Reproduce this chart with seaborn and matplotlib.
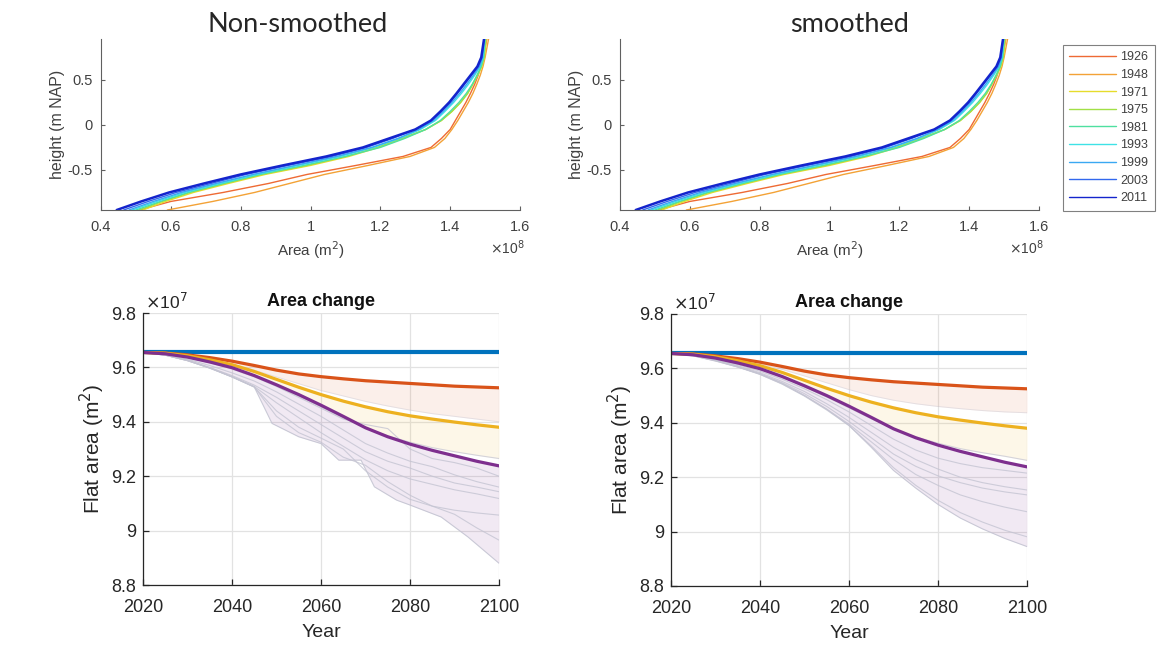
import numpy as np
import pandas as pd
import matplotlib
matplotlib.use("Agg")
import matplotlib.pyplot as plt
import seaborn as sns

sns.set_style("ticks")
plt.rcParams['font.family'] = ['Liberation Sans', 'DejaVu Sans']

# ---- top panels: hypsometric curves (area x1e8 m2 vs height) ----
survey_years = ['1926', '1948', '1971', '1975', '1981', '1993', '1999', '2003', '2011']
survey_colors = ['#ee6a34', '#f3a236', '#e6dc2c', '#a2e046', '#4fe0a0', '#3fe2e6',
                 '#3aa8f2', '#3268ee', '#1424cc']
heights = [-0.945, -0.85, -0.75, -0.65, -0.55, -0.45, -0.35, -0.25, -0.15, -0.05,
           0.05, 0.15, 0.25, 0.35, 0.45, 0.55, 0.65, 0.75, 0.955]
area_1926 = [0.51, 0.60, 0.75, 0.88, 0.99, 1.13, 1.265, 1.345, 1.375, 1.40,
             1.415, 1.43, 1.445, 1.458, 1.47, 1.48, 1.488, 1.495, 1.505]
area_1948 = [0.59, 0.72, 0.84, 0.94, 1.04, 1.165, 1.285, 1.355, 1.385, 1.405,
             1.422, 1.437, 1.452, 1.465, 1.476, 1.486, 1.494, 1.50, 1.51]
area_1971 = [0.52, 0.585, 0.665, 0.765, 0.87, 1.0, 1.11, 1.195, 1.265, 1.33,
             1.375, 1.405, 1.43, 1.45, 1.465, 1.479, 1.491, 1.498, 1.503]
area_1975 = [0.51, 0.575, 0.655, 0.755, 0.86, 0.99, 1.10, 1.19, 1.26, 1.33,
             1.375, 1.405, 1.43, 1.45, 1.464, 1.477, 1.489, 1.497, 1.502]
area_1981 = [0.50, 0.57, 0.65, 0.75, 0.855, 0.98, 1.10, 1.20, 1.27, 1.33,
             1.372, 1.40, 1.425, 1.446, 1.463, 1.477, 1.489, 1.496, 1.50]
area_1993 = [0.49, 0.56, 0.64, 0.74, 0.845, 0.965, 1.085, 1.18, 1.255, 1.315,
             1.358, 1.385, 1.41, 1.432, 1.452, 1.47, 1.486, 1.494, 1.499]
area_1999 = [0.48, 0.55, 0.63, 0.73, 0.835, 0.955, 1.075, 1.175, 1.25, 1.31,
             1.353, 1.38, 1.405, 1.427, 1.447, 1.466, 1.484, 1.493, 1.498]
area_2003 = [0.465, 0.535, 0.615, 0.715, 0.815, 0.935, 1.06, 1.16, 1.235, 1.30,
             1.347, 1.375, 1.40, 1.421, 1.441, 1.461, 1.481, 1.491, 1.497]
area_2011 = [0.445, 0.515, 0.595, 0.695, 0.80, 0.92, 1.045, 1.15, 1.225, 1.30,
             1.345, 1.372, 1.397, 1.418, 1.438, 1.458, 1.478, 1.489, 1.497]
survey_areas = [area_1926, area_1948, area_1971, area_1975, area_1981,
                area_1993, area_1999, area_2003, area_2011]

# ---- bottom panels: flat area projections (x1e7 m2) ----
years = [2020, 2025, 2030, 2035, 2040, 2045, 2050, 2055, 2060, 2065, 2070, 2075, 2080, 2085, 2090, 2095, 2100]
blue_main = [9.655] * 17
red_main = [9.655, 9.653, 9.646, 9.636, 9.623, 9.607, 9.590, 9.576, 9.566, 9.558, 9.551, 9.546, 9.541, 9.536, 9.531, 9.528, 9.525]
yellow_main = [9.655, 9.652, 9.643, 9.628, 9.610, 9.585, 9.556, 9.527, 9.500, 9.476, 9.455, 9.437, 9.422, 9.410, 9.399, 9.389, 9.380]
purple_main = [9.655, 9.650, 9.638, 9.620, 9.599, 9.570, 9.536, 9.500, 9.461, 9.420, 9.378, 9.345, 9.318, 9.295, 9.275, 9.255, 9.238]

# non-smoothed
red_low_ns = [9.655, 9.652, 9.642, 9.628, 9.612, 9.590, 9.565, 9.540, 9.515, 9.495, 9.475, 9.458, 9.443, 9.430, 9.420, 9.410, 9.400]
yellow_low_ns = [9.655, 9.650, 9.637, 9.619, 9.597, 9.568, 9.532, 9.495, 9.455, 9.415, 9.378, 9.348, 9.325, 9.305, 9.290, 9.277, 9.265]
purple_low_years_ns = [2020, 2025, 2030, 2035, 2040, 2045, 2049, 2055, 2060, 2064, 2069, 2072, 2077, 2080, 2087, 2093, 2100]
purple_low_ns = [9.655, 9.645, 9.625, 9.598, 9.565, 9.528, 9.394, 9.345, 9.320, 9.259, 9.259, 9.161, 9.112, 9.094, 9.050, 8.977, 8.880]
members_ns = [
    [9.655, 9.649, 9.636, 9.617, 9.594, 9.565, 9.530, 9.490, 9.450, 9.410, 9.390, 9.375, 9.300, 9.265, 9.250, 9.230, 9.200],
    [9.655, 9.647, 9.630, 9.607, 9.580, 9.550, 9.510, 9.465, 9.420, 9.370, 9.320, 9.285, 9.255, 9.235, 9.205, 9.180, 9.160],
    [9.655, 9.646, 9.627, 9.600, 9.570, 9.535, 9.490, 9.440, 9.390, 9.340, 9.290, 9.255, 9.230, 9.200, 9.175, 9.160, 9.143],
    [9.655, 9.645, 9.625, 9.597, 9.566, 9.530, 9.470, 9.415, 9.360, 9.310, 9.260, 9.220, 9.190, 9.170, 9.150, 9.135, 9.118],
    [9.655, 9.645, 9.625, 9.598, 9.565, 9.528, 9.440, 9.380, 9.340, 9.300, 9.220, 9.160, 9.115, 9.090, 9.075, 9.065, 9.057],
    [9.655, 9.645, 9.625, 9.598, 9.565, 9.528, 9.420, 9.360, 9.325, 9.270, 9.240, 9.180, 9.130, 9.090, 9.060, 9.010, 8.965],
]

# smoothed
red_low_s = [9.655, 9.652, 9.644, 9.632, 9.616, 9.596, 9.572, 9.547, 9.522, 9.500, 9.483, 9.470, 9.460, 9.452, 9.445, 9.440, 9.437]
yellow_low_s = [9.655, 9.650, 9.637, 9.619, 9.597, 9.568, 9.532, 9.495, 9.455, 9.415, 9.378, 9.348, 9.325, 9.305, 9.290, 9.277, 9.262]
purple_low_s = [9.655, 9.646, 9.627, 9.605, 9.580, 9.545, 9.500, 9.450, 9.390, 9.310, 9.225, 9.160, 9.100, 9.050, 9.010, 8.975, 8.945]
members_s = [
    [9.655, 9.649, 9.634, 9.614, 9.590, 9.560, 9.525, 9.485, 9.440, 9.390, 9.340, 9.300, 9.270, 9.250, 9.235, 9.225, 9.215],
    [9.655, 9.648, 9.632, 9.610, 9.584, 9.552, 9.515, 9.470, 9.420, 9.365, 9.310, 9.265, 9.230, 9.200, 9.180, 9.165, 9.153],
    [9.655, 9.647, 9.630, 9.607, 9.580, 9.547, 9.507, 9.460, 9.405, 9.345, 9.285, 9.240, 9.205, 9.180, 9.160, 9.146, 9.135],
    [9.655, 9.647, 9.629, 9.606, 9.578, 9.543, 9.500, 9.450, 9.395, 9.330, 9.265, 9.210, 9.170, 9.135, 9.110, 9.090, 9.073],
    [9.655, 9.646, 9.628, 9.605, 9.578, 9.542, 9.498, 9.447, 9.390, 9.315, 9.235, 9.170, 9.115, 9.070, 9.035, 9.005, 8.981],
]

C_BLUE, C_RED, C_YEL, C_PUR = '#0072BD', '#D95319', '#EDB120', '#7E2F8E'
GRAY_LINE = '#c4c4d2'

W, H = 1167, 651
fig = plt.figure(figsize=(W / 100, H / 100), dpi=100)


def rect(x0, x1, y0, y1):
    return [x0 / W, 1 - y1 / H, (x1 - x0) / W, (y1 - y0) / H]


def top_panel(ax, title, cx):
    for lab, col, area in zip(survey_years, survey_colors, survey_areas):
        lw = 1.8 if lab == '2011' else 1.0
        sns.lineplot(x=area, y=heights, sort=False, estimator=None, color=col,
                     lw=lw, ax=ax, label=lab, legend=False)
    ax.set_xlim(0.4, 1.6)
    ax.set_ylim(-0.945, 0.955)
    ax.set_xticks([0.4, 0.6, 0.8, 1.0, 1.2, 1.4, 1.6])
    ax.set_xticklabels(['0.4', '0.6', '0.8', '1', '1.2', '1.4', '1.6'])
    ax.set_yticks([-0.5, 0, 0.5])
    ax.set_yticklabels(['-0.5', '0', '0.5'])
    for s in ['top', 'right']:
        ax.spines[s].set_visible(False)
    for s in ['left', 'bottom']:
        ax.spines[s].set_color('#606060')
        ax.spines[s].set_linewidth(0.8)
    ax.tick_params(direction='in', length=3, width=0.8, colors='#606060',
                   labelcolor='#404040', labelsize=10.5)
    ax.tick_params(axis='x', pad=7)
    ax.tick_params(axis='y', pad=6)
    ax.set_xlabel('Area (m$^2$)', fontsize=11, color='#404040', labelpad=4)
    ax.set_ylabel('height (m NAP)', fontsize=11.5, color='#404040', labelpad=2)
    ax.text(0.97, -0.222, r'$\times$10$^8$', transform=ax.transAxes, ha='center',
            va='center', fontsize=10, color='#404040')
    fig.text(cx / W, 1 - 25 / H, title, ha='center', va='center',
             fontsize=19.5, family=['Lato', 'DejaVu Sans'])


def bottom_panel(ax, red_low, yellow_low, pl_years, purple_low, members):
    ax.fill_between(years, red_main, red_low, color=C_RED, alpha=0.09, lw=0)
    ax.fill_between(years, yellow_main, yellow_low, color=C_YEL, alpha=0.10, lw=0)
    ax.fill_between(pl_years, np.interp(pl_years, years, purple_main), purple_low,
                    color=C_PUR, alpha=0.10, lw=0)
    for m in members:
        sns.lineplot(x=years, y=m, color=GRAY_LINE, lw=0.8, alpha=0.8, ax=ax)
    sns.lineplot(x=years, y=red_low, color=GRAY_LINE, lw=0.7, alpha=0.4, ax=ax)
    sns.lineplot(x=years, y=yellow_low, color=GRAY_LINE, lw=0.8, alpha=0.7, ax=ax)
    sns.lineplot(x=pl_years, y=purple_low, color=GRAY_LINE, lw=0.8, alpha=0.9, ax=ax)
    sns.lineplot(x=years, y=blue_main, color=C_BLUE, lw=3.0, ax=ax)
    sns.lineplot(x=years, y=red_main, color=C_RED, lw=2.3, ax=ax)
    sns.lineplot(x=years, y=yellow_main, color=C_YEL, lw=2.3, ax=ax)
    sns.lineplot(x=years, y=purple_main, color=C_PUR, lw=2.3, ax=ax)
    ax.set_xlim(2020, 2100)
    ax.set_ylim(8.8, 9.8)
    ax.set_xticks([2020, 2040, 2060, 2080, 2100])
    ax.set_yticks([8.8, 9.0, 9.2, 9.4, 9.6, 9.8])
    ax.set_yticklabels(['8.8', '9', '9.2', '9.4', '9.6', '9.8'])
    ax.grid(True, color='#e2e2e2', lw=0.9)
    for s in ['top', 'right']:
        ax.spines[s].set_visible(False)
    for s in ['left', 'bottom']:
        ax.spines[s].set_color('#262626')
        ax.spines[s].set_linewidth(0.9)
    ax.tick_params(direction='in', length=4, width=0.9, colors='#262626', labelsize=13)
    ax.tick_params(axis='x', pad=10)
    ax.tick_params(axis='y', pad=5)
    ax.set_xlabel('Year', fontsize=14, color='#262626', labelpad=6)
    ax.set_ylabel('Flat area (m$^2$)', fontsize=15, color='#262626', labelpad=3)
    ax.set_title('Area change', fontsize=13, fontweight='bold', color='#111111', pad=5)
    ax.text(0.005, 1.005, r'$\times$10$^7$', transform=ax.transAxes, ha='left',
            va='bottom', fontsize=12.5, color='#262626')


ax1 = fig.add_axes(rect(101, 520, 39, 210))
top_panel(ax1, 'Non-smoothed', 298)
ax2 = fig.add_axes(rect(620, 1039, 39, 210))
top_panel(ax2, 'smoothed', 850)

handles, labels = ax2.get_legend_handles_labels()
leg = fig.legend(handles, labels, loc='upper left',
                 bbox_to_anchor=(1063 / W, 1 - 45 / H), bbox_transform=fig.transFigure,
                 fontsize=9, handlelength=3.7, labelspacing=0.45, borderpad=0.5,
                 handletextpad=0.4, fancybox=False, framealpha=1, borderaxespad=0)
leg.get_frame().set_edgecolor('#808080')
leg.get_frame().set_linewidth(0.8)
for t in leg.get_texts():
    t.set_color('#404040')
for h in leg.get_lines():
    h.set_linewidth(1.0)

ax3 = fig.add_axes(rect(143, 499, 313, 585))
bottom_panel(ax3, red_low_ns, yellow_low_ns, purple_low_years_ns, purple_low_ns, members_ns)
ax4 = fig.add_axes(rect(671, 1027, 314, 586))
bottom_panel(ax4, red_low_s, yellow_low_s, years, purple_low_s, members_s)

fig.savefig('out.png', dpi=100)
